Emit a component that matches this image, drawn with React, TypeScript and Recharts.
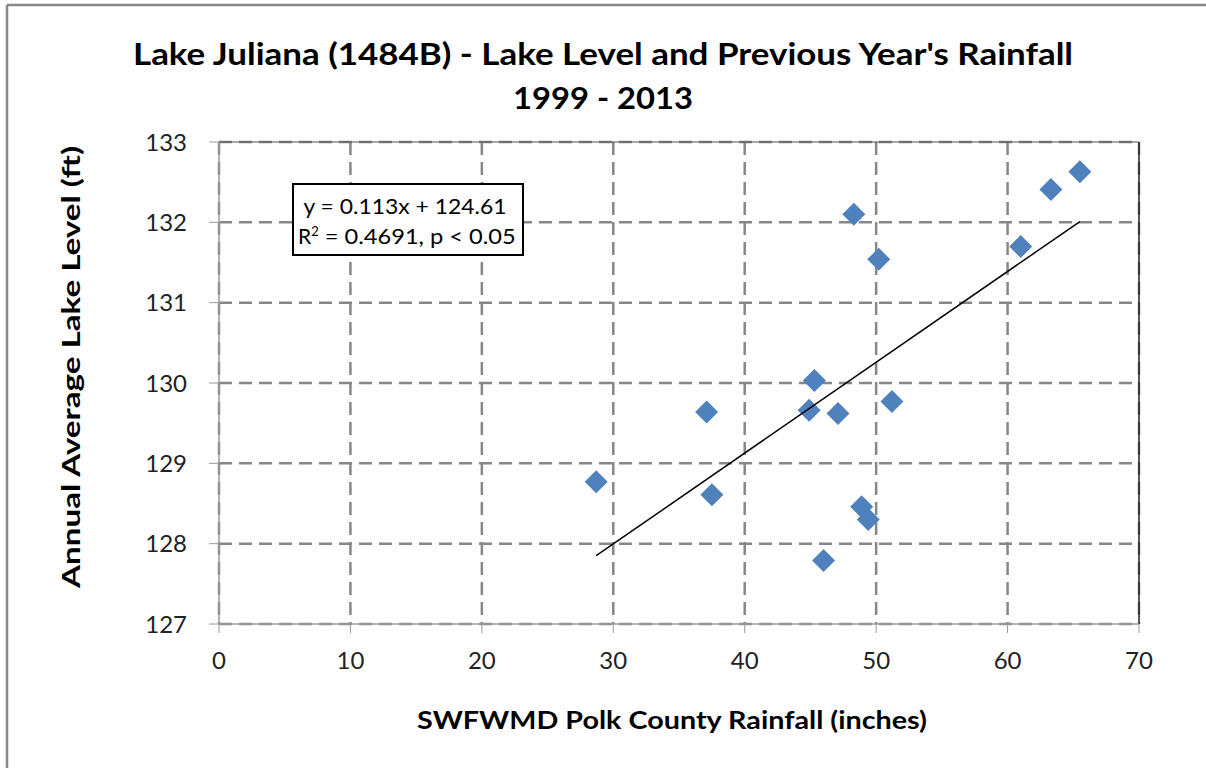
import React from "react";
import {
  ScatterChart,
  Scatter,
  XAxis,
  YAxis,
  CartesianGrid,
  ReferenceLine,
} from "recharts";

// rainfall (inches) vs annual average lake level (ft), 1999 - 2013
const rainfall = [28.7, 37.1, 37.5, 45.3, 44.9, 47.1, 51.2, 48.9, 49.4, 46.0, 48.3, 50.2, 61.0, 63.3, 65.5];
const lakeLevel = [128.77, 129.64, 128.61, 130.03, 129.66, 129.62, 129.77, 128.46, 128.3, 127.79, 132.1, 131.54, 131.7, 132.41, 132.63];

// linear trend line end points (y = 0.113x + 124.61)
const trendX = [28.7, 65.5];
const trendY = [127.85, 132.01];

const xTicks = [0, 10, 20, 30, 40, 50, 60, 70];
const yTicks = [127, 128, 129, 130, 131, 132, 133];

const points = rainfall.map((x, i) => ({ x, y: lakeLevel[i] }));
const trend = trendX.map((x, i) => ({ x, y: trendY[i] }));

const FONT = "Lato, 'Open Sans', sans-serif";
const BLUE = "#4F81BD";

const Diamond = (props: any) => {
  const { cx, cy } = props;
  if (cx == null || cy == null) return <g />;
  const r = 11.5;
  return (
    <polygon
      points={`${cx},${cy - r} ${cx + r},${cy} ${cx},${cy + r} ${cx - r},${cy}`}
      fill={BLUE}
    />
  );
};

const tickStyle = { fontSize: 24, fill: "#222", fontFamily: FONT };

export default function App() {
  return (
    <div style={{ position: "absolute", left: 0, top: 0, width: 1206, height: 768, background: "#fff" }}>
      <ScatterChart
        width={1206}
        height={768}
        margin={{ top: 142, right: 67, bottom: 94, left: 139 }}
      >
        <CartesianGrid stroke="#878787" strokeWidth={2.5} strokeDasharray="13 7" />
        <XAxis
          type="number"
          dataKey="x"
          domain={[0, 70]}
          ticks={xTicks}
          height={50}
          tickSize={9}
          tickMargin={19}
          stroke="#9a9a9a"
          tick={tickStyle}
          axisLine={{ stroke: "#9a9a9a", strokeWidth: 1.5 }}
        />
        <YAxis
          type="number"
          dataKey="y"
          domain={[127, 133]}
          ticks={yTicks}
          width={80}
          tickSize={10}
          tickMargin={22}
          stroke="#9a9a9a"
          tick={tickStyle}
          axisLine={{ stroke: "#9a9a9a", strokeWidth: 1.5 }}
        />
        <ReferenceLine y={133} stroke="#555" strokeWidth={1} />
        <ReferenceLine x={70} stroke="#222" strokeWidth={1.5} />
        <Scatter data={points} shape={Diamond} isAnimationActive={false} />
        <Scatter
          data={trend}
          line={{ stroke: "#000", strokeWidth: 1.5 }}
          shape={() => <g />}
          isAnimationActive={false}
        />
      </ScatterChart>

      <svg
        width={1206}
        height={768}
        style={{ position: "absolute", left: 0, top: 0, pointerEvents: "none" }}
      >
        {/* outer frame */}
        <line x1={7} y1={5} x2={1206} y2={5} stroke="#888" strokeWidth={2.5} />
        <line x1={7} y1={5} x2={7} y2={768} stroke="#888" strokeWidth={2.5} />

        <text x={603} y={65} textAnchor="middle" fontFamily={FONT} fontWeight="bold" fontSize={31}
          fill="#000" textLength={940} lengthAdjust="spacingAndGlyphs">
          Lake Juliana (1484B) - Lake Level and Previous Year's Rainfall
        </text>
        <text x={603} y={109} textAnchor="middle" fontFamily={FONT} fontWeight="bold" fontSize={31}
          fill="#000" textLength={180} lengthAdjust="spacingAndGlyphs">
          1999 - 2013
        </text>

        <text x={672} y={729} textAnchor="middle" fontFamily={FONT} fontWeight="bold" fontSize={25}
          fill="#000" textLength={510} lengthAdjust="spacingAndGlyphs">
          SWFWMD Polk County Rainfall (inches)
        </text>
        <text
          x={0}
          y={0}
          transform="translate(80, 367) rotate(-90)"
          textAnchor="middle"
          fontFamily={FONT}
          fontWeight="bold"
          fontSize={25}
          fill="#000"
          textLength={442}
          lengthAdjust="spacingAndGlyphs"
        >
          Annual Average Lake Level (ft)
        </text>

        {/* regression box */}
        <rect x={293} y={184} width={230} height={71} fill="#fff" stroke="#000" strokeWidth={2} />
        <text x={405} y={214} textAnchor="middle" fontFamily={FONT} fontSize={21} fill="#000"
          textLength={203} lengthAdjust="spacingAndGlyphs">
          y = 0.113x + 124.61
        </text>
        <text x={298} y={244} fontFamily={FONT} fontSize={21} fill="#000">
          R<tspan dy={-8} fontSize={13}>2</tspan>
          <tspan dy={8} textLength={197} lengthAdjust="spacingAndGlyphs"> = 0.4691, p &lt; 0.05</tspan>
        </text>
      </svg>
    </div>
  );
}
